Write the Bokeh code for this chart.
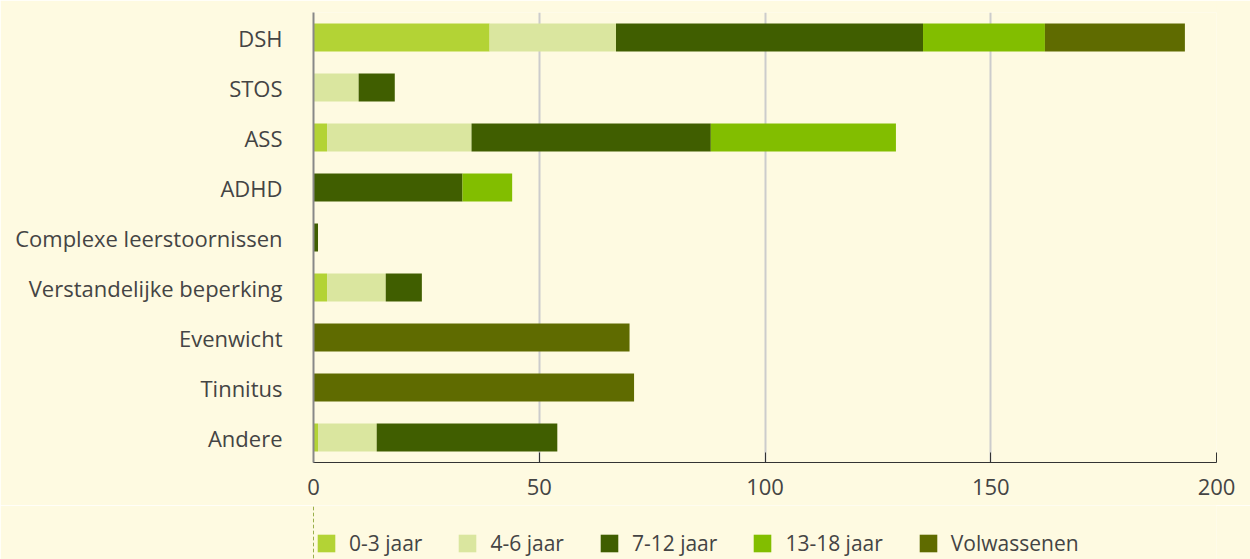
from bokeh.plotting import figure
from bokeh.layouts import column
from bokeh.models import FactorRange, Legend, LegendItem, ColumnDataSource, FixedTicker, Range1d
from bokeh.embed import file_html
from bokeh.resources import INLINE

categories = ["DSH", "STOS", "ASS", "ADHD", "Complexe leerstoornissen",
              "Verstandelijke beperking", "Evenwicht", "Tinnitus", "Andere"]
series_names = ["0-3 jaar", "4-6 jaar", "7-12 jaar", "13-18 jaar", "Volwassenen"]
v_0_3 = [39, 0, 3, 0, 0, 3, 0, 0, 1]
v_4_6 = [28, 10, 32, 0, 0, 13, 0, 0, 13]
v_7_12 = [68, 8, 53, 33, 1, 8, 0, 0, 40]
v_13_18 = [27, 0, 41, 11, 0, 0, 0, 0, 0]
v_adult = [31, 0, 0, 0, 0, 0, 70, 71, 0]
x_ticks = [0, 50, 100, 150, 200]

colors = ["#b3d335", "#dae69f", "#405e00", "#82be00", "#5f6b00"]
keys = ["a", "b", "c", "d", "e"]
bg = "#fefae1"
font = "Open Sans"

source = ColumnDataSource(dict(cat=categories, a=v_0_3, b=v_4_6, c=v_7_12, d=v_13_18, e=v_adult))

main = figure(y_range=FactorRange(*reversed(categories)), x_range=(0, 200),
              width=1250, height=505, frame_width=903, frame_height=450,
              min_border_left=313, min_border_right=34, min_border_top=12, min_border_bottom=43,
              output_backend="svg", toolbar_location=None,
              background_fill_color=bg, border_fill_color=bg, outline_line_color=None)

main.hbar_stack(keys, y="cat", height=0.56, color=colors, source=source, line_color=None)

main.xaxis.ticker = FixedTicker(ticks=x_ticks)
main.xaxis.axis_line_color = "#333333"
main.xaxis.major_tick_line_color = "#333333"
main.xaxis.major_tick_in = 10
main.xaxis.major_tick_out = 0
main.xaxis.minor_tick_line_color = None
main.xaxis.major_label_standoff = 16
main.xaxis.major_label_text_font = font
main.xaxis.major_label_text_font_size = "22px"
main.xaxis.major_label_text_color = "#444444"

main.yaxis.axis_line_color = "#888888"
main.yaxis.axis_line_width = 2
main.yaxis.major_tick_line_color = None
main.yaxis.minor_tick_line_color = None
main.yaxis.major_label_standoff = 25
main.yaxis.major_label_text_font = font
main.yaxis.major_label_text_font_size = "22px"
main.yaxis.major_label_text_color = "#444444"

main.ygrid.grid_line_color = None
main.xgrid.grid_line_color = "#cccccc"
main.xgrid.grid_line_width = 2

# legend strip below the chart (its bars lie outside its visible range)
leg = figure(width=1250, height=54, x_range=Range1d(1000, 1001), y_range=FactorRange(*categories),
             x_axis_location=None, y_axis_location=None,
             min_border_left=311, min_border_right=0, min_border_top=0, min_border_bottom=0,
             output_backend="svg", toolbar_location=None,
             background_fill_color=bg, border_fill_color=bg, outline_line_color=None)
leg.grid.visible = False
leg_renderers = leg.hbar_stack(keys, y="cat", height=0.56, color=colors, source=source, line_color=None)

items = [LegendItem(label=n, renderers=[r]) for n, r in zip(series_names, leg_renderers)]
legend = Legend(items=items, orientation="horizontal", location="bottom_left",
                background_fill_alpha=0, border_line_color=None,
                glyph_width=22, glyph_height=22, label_standoff=12, spacing=34,
                label_text_font=font, label_text_font_size="21px", label_text_color="#444444",
                margin=2, padding=0, label_height=22)
leg.add_layout(legend, "center")

p = column(main, leg, spacing=0)

open("out.html", "w").write(file_html(p, INLINE))
